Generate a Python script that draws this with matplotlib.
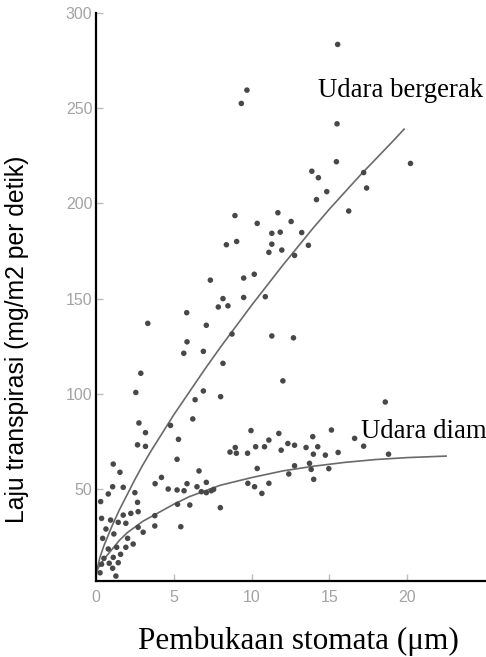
import matplotlib
matplotlib.use('Agg')
import matplotlib.pyplot as plt

# ------------------------------------------------------------
# Data
# ------------------------------------------------------------

# scatter points, moving air (upper cloud)
bergerak_x = [9.70, 9.34, 8.93, 10.36, 8.38, 9.04, 7.35, 9.49, 10.17, 8.16, 9.49,
              7.86, 8.48, 5.83, 3.33, 7.09, 8.74, 5.85, 5.64, 6.90, 8.16, 2.88,
              2.56, 6.90, 6.37, 8.01, 6.22, 4.79, 2.76, 3.18, 5.30, 2.67, 3.18,
              5.21, 1.11, 1.54, 1.07, 1.75, 0.79, 2.50, 0.30, 1.75, 0.36, 0.94,
              1.43, 0.64, 1.15, 0.43,
              15.53, 15.49, 15.45, 20.21, 17.20, 13.87, 14.29, 17.39, 14.83,
              14.17, 16.24, 11.69, 12.54, 11.30, 11.84, 13.22, 11.30, 13.65,
              11.94, 11.11, 12.76, 10.88, 11.30, 12.69, 12.01]
bergerak_y = [259.5, 252.5, 193.6, 189.5, 178.3, 180.0, 159.7, 160.8, 162.8, 150.0, 150.6,
              145.6, 146.2, 142.6, 137.0, 136.0, 131.4, 127.3, 121.3, 122.3, 116.0, 110.8,
              100.7, 101.5, 96.9, 98.5, 86.8, 83.4, 84.7, 79.6, 76.1, 73.2, 72.4,
              65.6, 63.1, 58.8, 51.2, 50.9, 47.4, 48.1, 43.4, 36.3, 34.6, 33.7,
              32.5, 29.0, 26.4, 24.1,
              283.5, 241.8, 221.9, 221.0, 216.2, 216.9, 213.5, 208.1, 206.2,
              202.0, 196.0, 195.1, 190.5, 184.3, 184.9, 184.7, 178.6, 178.0,
              175.5, 174.3, 172.7, 151.0, 130.4, 129.4, 106.8]

# scatter points, still air (lower cloud)
diam_x = [9.96, 8.95, 8.61, 9.02, 9.74, 10.26,
          6.62, 4.21, 3.80, 5.85, 7.09, 6.49, 4.64, 5.21, 5.66, 6.77, 7.09, 7.41,
          7.56, 9.76, 10.19, 10.36,
          2.67, 5.24, 6.03, 7.99, 2.71, 2.24, 3.78, 1.92, 3.78, 5.45, 2.71, 3.03,
          2.03, 2.39, 1.33, 1.92, 0.79, 1.58, 1.11, 0.51, 1.43, 0.85, 0.36, 1.07,
          0.26, 1.28,
          18.59, 11.75, 15.13, 16.62, 10.83, 11.11, 11.90, 12.33, 12.76, 13.50,
          13.93, 14.25, 13.97, 14.74, 15.56, 17.20, 18.80, 12.39, 12.76, 13.72,
          13.83, 13.99, 14.96, 10.66, 11.11]
diam_y = [80.7, 71.8, 69.4, 68.8, 68.8, 72.2,
          59.5, 56.1, 52.8, 52.8, 53.5, 51.2, 50.0, 49.5, 49.1, 48.6, 48.1, 49.1,
          49.8, 53.0, 51.2, 60.8,
          43.0, 42.0, 41.6, 40.2, 38.1, 37.2, 36.0, 32.0, 30.6, 30.2, 29.9, 27.3,
          24.1, 21.1, 19.4, 19.4, 18.5, 15.7, 14.1, 13.6, 11.3, 11.0, 10.5, 8.4,
          6.0, 4.3,
          95.7, 79.2, 81.0, 76.6, 72.2, 75.7, 70.4, 73.9, 73.0, 71.8,
          77.5, 72.2, 68.3, 67.8, 69.2, 72.5, 68.3, 57.9, 62.2, 63.5,
          60.3, 55.1, 60.7, 47.7, 53.0]

# fitted curves as drawn in the chart
curve_b_x = [0.05, 0.25, 0.5, 0.75, 1, 1.5, 2, 2.5, 3, 3.5, 4, 5, 6, 7, 8, 9, 10,
             11, 12, 13, 14, 15, 16, 17, 18, 19, 19.8]
curve_b_y = [7, 14, 20, 25, 30, 39, 47, 55, 62.5, 69.5, 76, 89, 101, 113, 124.5,
             135.5, 146.5, 157, 167.5, 177.5, 187.5, 197, 206, 215, 223.5, 232, 239]

curve_d_x = [0.05, 0.25, 0.5, 1, 1.5, 2, 3, 4, 5, 6, 7, 8, 10,
             12, 14, 16, 18, 20, 22.5]
curve_d_y = [7, 10, 13, 18, 23, 27, 33, 37.5, 42, 46, 49, 52, 56,
             59.5, 62, 64, 65.5, 66.5, 67.3]

x_ticks = [0, 5, 10, 15, 20]
y_ticks = [50, 100, 150, 200, 250, 300]

# ------------------------------------------------------------
# Figure
# ------------------------------------------------------------

fig = plt.figure(figsize=(4.86, 6.57), dpi=100)
ax = fig.add_axes([0.1975, 0.1157, 0.8005, 0.8645])

dot_color = '#484848'
ax.scatter(bergerak_x, bergerak_y, s=16, color=dot_color, edgecolors='none', zorder=3)
ax.scatter(diam_x, diam_y, s=16, color=dot_color, edgecolors='none', zorder=3)

ax.plot(curve_b_x, curve_b_y, color='#6a6a6a', lw=1.2, zorder=2)
ax.plot(curve_d_x, curve_d_y, color='#6a6a6a', lw=1.2, zorder=2)

ax.set_xlim(0, 25)
ax.set_ylim(1.7, 300)

ax.spines['top'].set_visible(False)
ax.spines['right'].set_visible(False)
ax.spines['left'].set_linewidth(1.6)
ax.spines['bottom'].set_linewidth(1.6)

ax.set_xticks(x_ticks)
ax.set_yticks(y_ticks)
ax.tick_params(axis='both', direction='in', color='#bdbdbd', length=5, width=1,
               labelsize=11.5, labelcolor='#a3a3a3')
ax.tick_params(axis='x', pad=6.5)
ax.tick_params(axis='y', pad=2.5)
for lab in ax.get_xticklabels() + ax.get_yticklabels():
    lab.set_family('Liberation Sans')

# labels
fig.text(17 / 486, 1 - 339 / 657, 'Laju transpirasi (mg/m2 per detik)',
         rotation=90, ha='center', va='center', fontsize=17.8,
         family='Liberation Sans')
fig.text(298 / 486, 1 - 649 / 657, 'Pembukaan stomata (\u03bcm)',
         ha='center', va='baseline', fontsize=22.5, family='Liberation Serif')

# curve annotations
fig.text(318 / 486, 1 - 97 / 657, 'Udara bergerak', ha='left', va='baseline',
         fontsize=19.3, family='Liberation Serif')
fig.text(360.5 / 486, 1 - 438 / 657, 'Udara diam', ha='left', va='baseline',
         fontsize=19.3, family='Liberation Serif')

fig.savefig('out.png', dpi=100)
